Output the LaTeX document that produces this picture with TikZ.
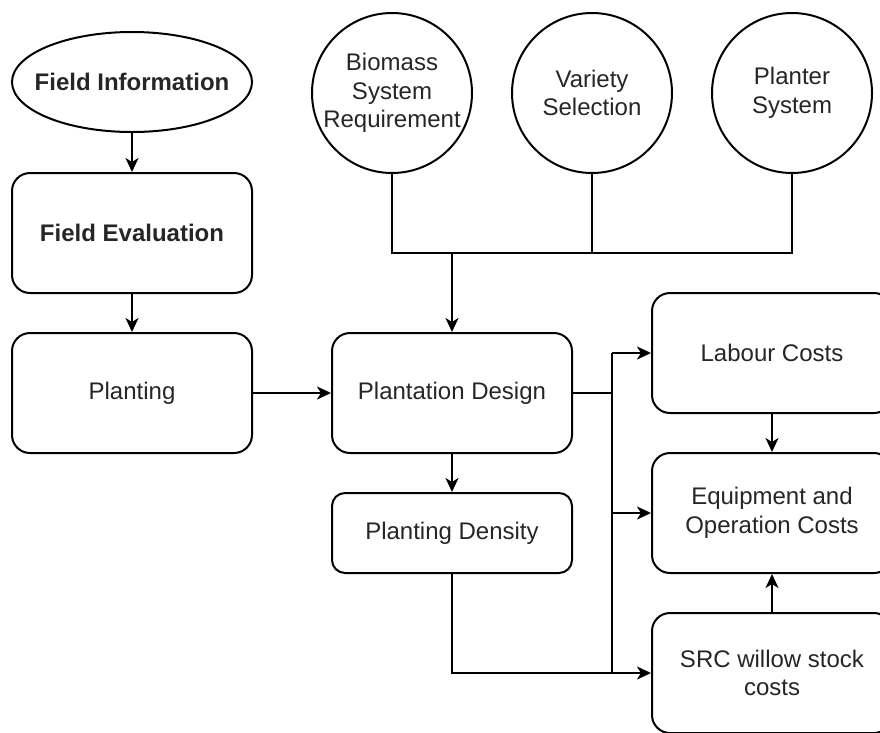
\documentclass[tikz,border=0pt]{standalone}
\usepackage{fontspec}
\setmainfont{Liberation Sans}
\usetikzlibrary{arrows.meta,shapes.geometric}

\tikzset{
  txt/.style={text=black!85, align=center, font=\fontsize{24}{28.5}\selectfont},
  base/.style={txt, draw=black, line width=2pt, fill=white, inner sep=0pt},
  box/.style={base, rectangle, rounded corners=18pt,
    minimum width=240pt, minimum height=120pt},
  smallbox/.style={base, rectangle, rounded corners=13pt,
    minimum width=240pt, minimum height=80pt},
  oval/.style={base, ellipse, minimum width=240pt, minimum height=100pt},
  disc/.style={base, circle, minimum size=160pt},
  wire/.style={draw=black, line width=2pt},
  arr/.style={wire, -{Stealth[length=14pt,width=13pt,inset=4pt]}},
}

\begin{document}
\begin{tikzpicture}[x=1pt,y=-1pt]
  \useasboundingbox (0,0) rectangle (880,732);

  % left column
  \node[oval, label={[txt]center:\textbf{Field Information}}] (info) at (132,82) {};
  \node[box] (eval) at (132,233) {\textbf{Field Evaluation}};
  \node[box] (plant) at (132,393) {Planting};

  % requirement inputs
  \node[disc] (bio) at (392,93) {Biomass\\System\\Requirement};
  \node[disc] (var) at (592,93) {Variety\\Selection};
  \node[disc] (sys) at (792,93) {Planter\\System};

  % centre column
  \node[box] (design) at (452,393) {Plantation Design};
  \node[smallbox] (dens) at (452,533) {Planting Density};

  % cost boxes
  \node[box] (lab) at (772,353) {Labour Costs};
  \node[box] (equip) at (772,513) {Equipment and\\Operation Costs};
  \node[box] (stock) at (772,673) {SRC willow stock\\costs};

  % junction points
  \coordinate (bus) at (452,253);
  \coordinate (tap) at (612,393);

  % connectors
  \draw[arr] (info) -- (eval);
  \draw[arr] (eval) -- (plant);
  \draw[arr] (plant) -- (design);

  \draw[wire] (bio.south) -- (bio.south |- bus) -- (sys.south |- bus) -- (sys.south);
  \draw[wire] (var.south) -- (var.south |- bus);
  \draw[arr] (bus) -- (design.north);

  \draw[arr] (design) -- (dens);

  \draw[wire] (design.east) -- (tap);
  \draw[wire] (tap |- lab.west) -- (tap |- stock.west);
  \draw[arr] (tap |- lab.west) -- (lab.west);
  \draw[arr] (tap |- equip.west) -- (equip.west);
  \draw[arr] (dens.south) |- (stock.west);

  \draw[arr] (lab) -- (equip);
  \draw[arr] (stock) -- (equip);
\end{tikzpicture}
\end{document}
